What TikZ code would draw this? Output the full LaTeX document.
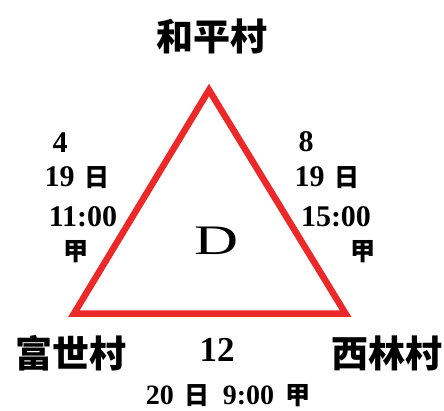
\documentclass[tikz,border=0pt]{standalone}
\usepackage{fontspec}
\setmainfont{Liberation Serif}
\newfontfamily\cjk{Noto Sans CJK TC}
\definecolor{tri}{RGB}{236,40,40}
\tikzset{
  num/.style={inner sep=0pt,font=\fontsize{30}{30}\selectfont\bfseries},
  vil/.style={inner sep=0pt,font=\cjk\fontsize{37}{37}\selectfont\bfseries},
  sm/.style={inner sep=0pt,font=\cjk\fontsize{25}{25}\selectfont\bfseries},
}
\newcommand{\smc}[1]{{\cjk\fontsize{25}{25}\selectfont\bfseries #1}}
\begin{document}
\begin{tikzpicture}[x=1pt,y=-1pt]
\useasboundingbox (0,0) rectangle (444,410);
\coordinate (A) at (209,90);
\coordinate (B) at (74,313.5);
\coordinate (C) at (345.5,313.5);
\draw[tri,line width=6.5pt,line join=miter] (A) -- (B) -- (C) -- cycle;
\node[vil] (top) at (212,36) {和平村};
\node[vil] (left) at (71,353) {富世村};
\node[vil] (right) at (387,353) {西林村};
\node[inner sep=0pt,font=\fontsize{42}{42}\selectfont,xscale=1.45] (d) at (216,241) {D};
% left side
\node[num] (l1) at (60,143) {4};
\node[num] (l2) at (77,178) {19\hspace{10pt}\smc{日}};
\node[num] (l3) at (83,217) {11:00};
\node[sm] (l4) at (76,252) {甲};
% right side
\node[num] (r1) at (306,142) {8};
\node[num] (r2) at (327,178) {19\hspace{10pt}\smc{日}};
\node[num] (r3) at (336,217) {15:00};
\node[sm] (r4) at (363,252) {甲};
% bottom
\node[num,font=\fontsize{35}{35}\selectfont\bfseries] (b1) at (217,350) {12};
\node[num,font=\fontsize{28}{28}\selectfont\bfseries] (b2) at (228,396) {20\hspace{11pt}\smc{日}\hspace{13pt}9:00\hspace{11pt}\smc{甲}};
\end{tikzpicture}
\end{document}
